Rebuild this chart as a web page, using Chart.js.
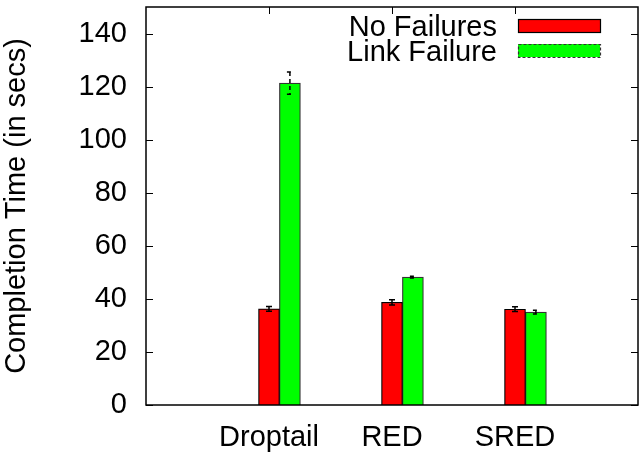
<!DOCTYPE html>
<html>
<head>
<meta charset="utf-8">
<script src="https://cdn.jsdelivr.net/npm/chart.js@4/dist/chart.umd.min.js"></script>
<style>
    html, body { margin: 0; padding: 0; background: #fff; }
    #wrap { width: 639px; height: 454px; position: relative; }
</style>
</head>
<body>
<div id="wrap"><canvas id="ptgChart"></canvas></div>
<script>
// data
const categories = ['Droptail', 'RED', 'SRED'];
const categoryPos = [1, 2, 3];
const seriesNames = ['No Failures', 'Link Failure'];
const noFailures = [36.2, 38.7, 36.1];
const noFailuresErr = [0.9, 1.0, 0.9];
const linkFailure = [121.3, 48.2, 35.0];
const linkFailureErr = [4.2, 0.3, 0.7];
const greenShift = 0.17; // second bar sits beside the first one
const yTicks = [0, 20, 40, 60, 80, 100, 120, 140];

const FONT = '"Liberation Sans", Arial, sans-serif';

// inward ticks, frame, error bars, legend (gnuplot look)
const gnuplotLook = {
    id: 'gnuplotLook',
    beforeDatasetsDraw: function (chart) {
        const ctx = chart.ctx, a = chart.chartArea;
        const x = chart.scales.x, y = chart.scales.y;
        ctx.save();
        ctx.strokeStyle = '#000';
        ctx.lineWidth = 1;
        yTicks.forEach(function (v) {
            const py = Math.round(y.getPixelForValue(v)) + 0.5;
            ctx.beginPath();
            ctx.moveTo(a.left, py); ctx.lineTo(a.left + 7, py);
            ctx.moveTo(a.right, py); ctx.lineTo(a.right - 7, py);
            ctx.stroke();
        });
        categoryPos.forEach(function (v) {
            const px = Math.round(x.getPixelForValue(v)) + 0.5;
            ctx.beginPath();
            ctx.moveTo(px, a.top); ctx.lineTo(px, a.top + 7);
            ctx.moveTo(px, a.bottom); ctx.lineTo(px, a.bottom - 7);
            ctx.stroke();
        });
        ctx.restore();
    },
    afterDatasetsDraw: function (chart) {
        const ctx = chart.ctx, a = chart.chartArea;
        const x = chart.scales.x, y = chart.scales.y;
        ctx.save();
        ctx.strokeStyle = '#000';
        ctx.lineWidth = 1.5;

        function errBar(xv, val, err, dashed) {
            const px = x.getPixelForValue(xv);
            const top = y.getPixelForValue(val + err);
            const bot = y.getPixelForValue(val - err);
            ctx.setLineDash(dashed ? [4, 3] : []);
            ctx.beginPath();
            ctx.moveTo(px, top); ctx.lineTo(px, bot);
            ctx.moveTo(px - 3, top); ctx.lineTo(px + 3, top);
            ctx.moveTo(px - 3, bot); ctx.lineTo(px + 3, bot);
            ctx.stroke();
        }
        categoryPos.forEach(function (p, i) {
            errBar(p, noFailures[i], noFailuresErr[i], false);
            errBar(p + greenShift, linkFailure[i], linkFailureErr[i], true);
        });
        ctx.setLineDash([]);

        // frame
        ctx.strokeRect(a.left, a.top, a.right - a.left, a.bottom - a.top);

        // legend
        ctx.font = '29px ' + FONT;
        ctx.textAlign = 'right';
        ctx.textBaseline = 'alphabetic';
        ctx.fillStyle = '#000';
        const rows = [
            { text: seriesNames[0], base: 36, boxTop: 19, fill: '#ff0000', dash: [] },
            { text: seriesNames[1], base: 61, boxTop: 44, fill: '#00ff00', dash: [3, 2] }
        ];
        rows.forEach(function (r) {
            ctx.fillText(r.text, 497, r.base);
            ctx.fillStyle = r.fill;
            ctx.fillRect(518, r.boxTop, 82, 13);
            ctx.setLineDash(r.dash);
            ctx.lineWidth = 1.2;
            ctx.strokeStyle = r.dash.length ? '#333' : '#000';
            ctx.strokeRect(518.5, r.boxTop + 0.5, 82, 13);
            ctx.fillStyle = '#000';
        });
        ctx.restore();
    }
};

new Chart(document.getElementById('ptgChart').getContext('2d'), {
    type: 'bar',
    data: {
        datasets: [{
            label: seriesNames[0],
            data: categoryPos.map((p, i) => ({ x: p, y: noFailures[i] })),
            backgroundColor: '#ff0000',
            borderColor: '#000000',
            borderWidth: 1.2,
            barThickness: 21,
            grouped: false
        }, {
            label: seriesNames[1],
            data: categoryPos.map((p, i) => ({ x: p + greenShift, y: linkFailure[i] })),
            backgroundColor: '#00ff00',
            borderColor: '#333333',
            borderWidth: 1.2,
            borderDash: [3, 2],
            barThickness: 21,
            grouped: false
        }]
    },
    options: {
        responsive: true,
        maintainAspectRatio: false,
        animation: false,
        layout: { padding: { top: 7, right: 1, left: 0, bottom: 0 } },
        scales: {
            x: {
                type: 'linear',
                offset: false,
                min: 0,
                max: 4,
                afterFit: function (s) {
                    s.height = 49;
                    s.paddingLeft = 0; s.paddingRight = 0;
                },
                afterBuildTicks: function (s) {
                    s.ticks = categoryPos.map(v => ({ value: v }));
                },
                grid: { display: false, drawTicks: false },
                border: { display: false },
                ticks: {
                    padding: 16,
                    maxRotation: 0,
                    autoSkip: false,
                    color: '#000',
                    font: { family: FONT, size: 29 },
                    callback: function (v) {
                        const i = categoryPos.indexOf(v);
                        return i >= 0 ? categories[i] : '';
                    }
                }
            },
            y: {
                min: 0,
                max: 150,
                afterFit: function (s) {
                    s.width = 146;
                    s.paddingTop = 0; s.paddingBottom = 0;
                },
                afterBuildTicks: function (s) {
                    s.ticks = yTicks.map(v => ({ value: v }));
                },
                grid: { display: false, drawTicks: false },
                border: { display: false },
                ticks: {
                    padding: 19,
                    color: '#000',
                    font: { family: FONT, size: 29 }
                },
                title: {
                    display: true,
                    text: 'Completion Time (in secs)',
                    color: '#000',
                    font: { family: FONT, size: 29 },
                    padding: { top: 0, bottom: 0 }
                }
            }
        },
        plugins: {
            legend: { display: false },
            tooltip: { enabled: false }
        }
    },
    plugins: [gnuplotLook]
});
</script>
</body>
</html>
